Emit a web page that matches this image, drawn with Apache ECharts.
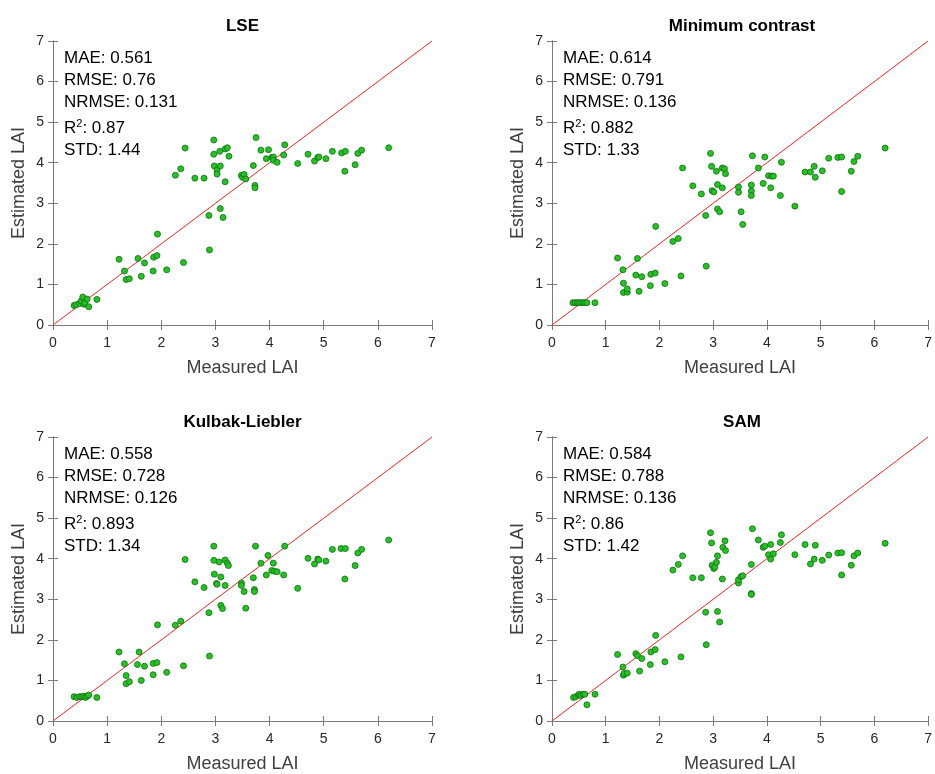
<!DOCTYPE html>
<html>
<head>
<meta charset="utf-8">
<script src="https://cdn.jsdelivr.net/npm/echarts@6/dist/echarts.min.js"></script>
<style>
  html, body { margin: 0; padding: 0; background: #fff; }
  #chart { width: 935px; height: 774px; }
</style>
</head>
<body>
<div id="chart"></div>
<script>
// measured / estimated LAI per method
const lseMeasured = [0.39,0.43,0.49,0.52,0.55,0.57,0.59,0.63,0.66,0.81,1.22,1.32,1.35,1.41,1.57,1.63,1.69,1.85,1.86,1.92,1.93,2.10,2.41,2.26,2.36,2.44,2.62,2.79,2.88,2.89,2.97,2.97,2.98,3.03,3.03,3.08,3.09,3.09,3.14,3.18,3.18,3.22,3.25,3.48,3.50,3.53,3.56,3.70,3.73,3.73,3.75,3.84,3.94,3.98,4.04,4.07,4.07,4.14,4.26,4.28,4.52,4.71,4.83,4.89,4.91,5.04,5.16,5.33,5.40,5.39,5.58,5.63,5.70,6.20];
const lseEstimated = [0.48,0.50,0.53,0.59,0.69,0.51,0.55,0.64,0.45,0.63,1.62,1.33,1.12,1.14,1.64,1.20,1.53,1.33,1.67,1.71,2.24,1.36,1.54,3.69,3.85,4.36,3.62,3.62,2.70,1.85,4.56,4.21,3.92,3.82,3.72,4.28,3.92,2.87,2.65,3.53,4.34,4.37,4.16,3.69,3.64,3.71,3.60,3.93,3.44,3.38,4.62,4.31,4.10,4.32,4.13,4.14,4.06,4.01,4.19,4.44,3.98,4.21,4.04,4.13,4.14,4.10,4.28,4.24,4.28,3.79,3.95,4.23,4.31,4.37];

const mcMeasured = [0.39,0.43,0.47,0.50,0.54,0.58,0.61,0.65,0.80,1.22,1.32,1.33,1.33,1.40,1.40,1.56,1.59,1.62,1.67,1.83,1.84,1.92,1.93,2.10,2.25,2.35,2.40,2.43,2.62,2.78,2.86,2.87,2.95,2.97,2.98,3.01,3.06,3.08,3.08,3.12,3.17,3.17,3.21,3.23,3.47,3.47,3.52,3.55,3.71,3.71,3.71,3.73,3.84,3.93,3.96,4.03,4.07,4.09,4.12,4.25,4.27,4.52,4.71,4.81,4.88,4.90,5.03,5.15,5.32,5.39,5.39,5.57,5.62,5.69,6.20];
const mcEstimated = [0.55,0.55,0.55,0.55,0.55,0.55,0.55,0.55,0.55,1.65,1.36,1.03,0.80,0.81,0.89,1.23,1.64,0.83,1.19,0.97,1.25,1.28,2.43,1.02,2.06,2.13,1.21,3.87,3.43,3.23,2.70,1.45,4.23,3.91,3.31,3.28,3.79,3.46,2.86,2.79,3.87,3.38,3.85,3.73,3.40,3.27,2.79,2.48,3.45,3.30,3.19,4.17,3.87,3.49,4.14,3.68,3.38,3.67,3.67,3.19,4.01,2.93,3.77,3.77,3.91,3.64,3.80,4.11,4.13,4.14,3.29,3.79,4.03,4.16,4.36];

const klMeasured = [0.39,0.44,0.49,0.53,0.57,0.60,0.63,0.66,0.81,1.22,1.32,1.35,1.35,1.41,1.56,1.59,1.63,1.69,1.85,1.85,1.92,1.93,2.10,2.26,2.36,2.41,2.44,2.62,2.79,2.88,2.89,2.97,2.97,2.98,3.02,3.03,3.07,3.10,3.10,3.13,3.18,3.18,3.22,3.24,3.48,3.48,3.53,3.56,3.70,3.72,3.72,3.74,3.84,3.94,3.97,4.04,4.07,4.09,4.14,4.26,4.28,4.52,4.71,4.83,4.89,4.91,5.04,5.16,5.32,5.40,5.39,5.58,5.63,5.70,6.20];
const klEstimated = [0.60,0.58,0.60,0.60,0.61,0.58,0.61,0.64,0.58,1.70,1.41,1.12,0.92,0.97,1.39,1.70,1.00,1.35,1.42,1.14,1.44,2.37,1.20,2.36,2.46,1.36,3.98,3.43,3.29,2.67,1.60,4.31,3.96,3.62,3.39,3.37,3.92,3.55,2.85,2.77,3.97,3.34,3.89,3.83,3.40,3.34,3.19,2.78,3.53,3.24,3.19,4.31,3.89,3.60,4.08,3.71,3.89,3.69,3.68,3.60,4.31,3.27,4.01,3.87,3.99,3.97,3.94,4.23,4.25,4.25,3.50,3.83,4.14,4.23,4.46];

const samMeasured = [0.40,0.44,0.49,0.51,0.54,0.58,0.61,0.65,0.80,1.22,1.32,1.33,1.34,1.40,1.56,1.59,1.63,1.67,1.83,1.84,1.92,1.93,2.10,2.25,2.35,2.40,2.43,2.62,2.78,2.86,2.87,2.95,2.97,2.98,3.01,3.03,3.06,3.08,3.08,3.12,3.17,3.18,3.22,3.23,3.47,3.47,3.52,3.55,3.71,3.71,3.71,3.73,3.84,3.93,3.96,4.03,4.07,4.07,4.12,4.25,4.27,4.52,4.71,4.81,4.88,4.90,5.03,5.15,5.32,5.39,5.39,5.57,5.62,5.69,6.20];
const samEstimated = [0.58,0.60,0.64,0.66,0.63,0.66,0.66,0.40,0.66,1.64,1.33,1.13,1.17,1.18,1.66,1.61,1.23,1.54,1.39,1.70,1.76,2.11,1.46,3.72,3.86,1.58,4.07,3.53,3.53,2.68,1.88,4.64,4.39,3.84,3.76,3.79,3.91,4.07,2.70,2.44,3.50,4.28,4.44,4.20,3.40,3.48,3.56,3.58,3.86,3.14,3.12,4.74,4.46,4.28,4.31,4.10,4.35,3.99,4.12,4.40,4.59,4.10,4.35,3.87,3.99,4.33,3.96,4.09,4.14,4.15,3.60,3.84,4.07,4.14,4.38];

const titles = ['LSE', 'Minimum contrast', 'Kulbak-Liebler', 'SAM'];
const statNames = ['MAE', 'RMSE', 'NRMSE', 'R2', 'STD'];
const lseStats = ['0.561', '0.76', '0.131', '0.87', '1.44'];
const mcStats = ['0.614', '0.791', '0.136', '0.882', '1.33'];
const klStats = ['0.558', '0.728', '0.126', '0.893', '1.34'];
const samStats = ['0.584', '0.788', '0.136', '0.86', '1.42'];
const axisTicks = [0, 1, 2, 3, 4, 5, 6, 7];

const measured = [lseMeasured, mcMeasured, klMeasured, samMeasured];
const estimated = [lseEstimated, mcEstimated, klEstimated, samEstimated];
const stats = [lseStats, mcStats, klStats, samStats];

const FONT = 'Liberation Sans, Arial, sans-serif';
const boxes = [
  { left: 53, top: 41, width: 379, height: 284 },
  { left: 552, top: 41, width: 380, height: 284 },
  { left: 53, top: 437, width: 379, height: 285 },
  { left: 552, top: 437, width: 380, height: 285 }
];
const axisColor = '#7a7a7a';

const grid = [], xAxis = [], yAxis = [], series = [], graphic = [];

boxes.forEach((b, i) => {
  grid.push({ left: b.left, top: b.top, width: b.width, height: b.height, containLabel: false });

  const base = {
    type: 'value', min: axisTicks[0], max: axisTicks[axisTicks.length - 1], interval: 1,
    gridIndex: i, splitLine: { show: false },
    axisLine: { show: true, lineStyle: { color: axisColor, width: 1 } },
    axisTick: { show: true, inside: true, length: 5, lineStyle: { color: axisColor } }
  };
  xAxis.push(Object.assign({}, base, {
    position: 'bottom',
    name: 'Measured LAI', nameLocation: 'middle', nameGap: 34,
    nameTextStyle: { fontFamily: FONT, fontSize: 18, color: '#404040' },
    axisLabel: { fontFamily: FONT, fontSize: 14, color: '#262626', margin: 11 }
  }));
  xAxis.push(Object.assign({}, base, { position: 'top', axisLabel: { show: false } }));
  yAxis.push(Object.assign({}, base, {
    position: 'left',
    name: 'Estimated LAI', nameLocation: 'middle', nameGap: 25,
    nameTextStyle: { fontFamily: FONT, fontSize: 18, color: '#404040' },
    axisLabel: { fontFamily: FONT, fontSize: 14, color: '#262626', margin: 9 }
  }));
  yAxis.push(Object.assign({}, base, { position: 'right', axisLabel: { show: false } }));

  // 1:1 line
  series.push({
    type: 'line', xAxisIndex: i * 2, yAxisIndex: i * 2, silent: true,
    symbol: 'none', data: [[0, 0], [7, 7]],
    lineStyle: { color: '#ff2020', width: 1 }, z: 3
  });
  series.push({
    type: 'scatter', xAxisIndex: i * 2, yAxisIndex: i * 2,
    data: measured[i].map((m, k) => [m, estimated[i][k]]),
    symbolSize: 6,
    itemStyle: { color: '#22c422', borderColor: '#136b13', borderWidth: 0.8, opacity: 1 },
    z: 4
  });

  graphic.push({
    type: 'text', x: b.left + b.width / 2, y: b.top - 15,
    style: { text: titles[i], font: 'bold 17px ' + FONT, fill: '#000', textAlign: 'center', textVerticalAlign: 'middle' }
  });

  const offsets = [17, 39, 61, 87, 109];
  statNames.forEach((n, k) => {
    const txt = n === 'R2'
      ? '{n|R}{s|2}{n|: ' + stats[i][k] + '}'
      : '{n|' + n + ': ' + stats[i][k] + '}';
    graphic.push({
      type: 'text', x: b.left + 11, y: b.top + offsets[k],
      style: {
        text: txt, textAlign: 'left', textVerticalAlign: 'middle',
        rich: {
          n: { fontFamily: FONT, fontSize: 17, color: '#000', lineHeight: 20 },
          s: { fontFamily: FONT, fontSize: 11, color: '#000', lineHeight: 20, verticalAlign: 'top', padding: [0, 0, 9, 0] }
        }
      }
    });
  });
});

const chart = echarts.init(document.getElementById('chart'), null, { renderer: 'canvas' });
chart.setOption({
  backgroundColor: '#fff',
  animation: false,
  grid, xAxis, yAxis, series, graphic
});
</script>
</body>
</html>
